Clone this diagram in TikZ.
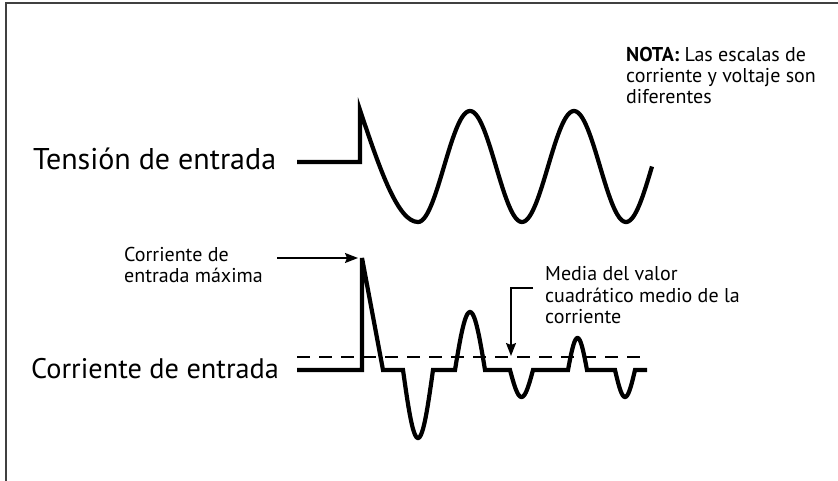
\documentclass[tikz,border=0pt]{standalone}
\usepackage{fontspec}
\setmainfont{PT Sans}
\usetikzlibrary{arrows.meta}
\definecolor{framegray}{HTML}{404040}
\begin{document}
\begin{tikzpicture}[x=1pt,y=-1pt,
  wave/.style={line width=4.2pt},
  dashline/.style={line width=1.6pt, dash pattern=on 13pt off 9pt},
  callout/.style={line width=1.6pt, -{Stealth[length=13pt,width=10pt,inset=2pt]}},
  small/.style={font=\fontsize{20}{20.8}\selectfont, align=left, inner sep=0pt},
  big/.style={font=\fontsize{30}{34}\selectfont, inner sep=0pt}]
\useasboundingbox (0,0) rectangle (838,481);
% frame
\draw[framegray, line width=2pt] (5.5,481) -- (5.5,3.5) -- (838,3.5);

% labels
\node[big, anchor=base west] (vin) at (33,170) {Tensión de entrada};
\node[big, anchor=base west, font=\fontsize{28.3}{34}\selectfont] (iin) at (31,378) {Corriente de entrada};
\node[small, anchor=north west] (nota) at (626,47) {\textbf{NOTA:} Las escalas de\\corriente y voltaje son\\diferentes};
\node[small, anchor=north west] (peaklbl) at (124,247) {Corriente de\\entrada máxima};
\node[small, anchor=north west, font=\fontsize{20}{21.5}\selectfont] (rmslbl) at (545,266.5) {Media del valor\\cuadrático medio de la\\corriente};

% voltage waveform
\draw[wave] (297,162) -- (360,162) -- (360,110)
  .. controls (380,170) and (398,222) .. (418,222)
  -- plot[domain=0:234, samples=150] ({418+\x},{166.5+55.5*cos(3.46154*\x)});

% current waveform
\coordinate (ipk) at (362,258);
\draw[wave] (297,370) -- (362,370) -- (ipk) -- (383,370) -- (403,370)
  -- plot[domain=0:30, samples=40] ({403+\x},{370+68*sin(6*\x)})
  -- (455,370)
  -- plot[domain=0:30, samples=40] ({455+\x},{370-58*sin(6*\x)})
  -- (510,370)
  -- plot[domain=0:23, samples=30] ({510+\x},{370+27*sin(7.826*\x)})
  -- (568,370)
  -- plot[domain=0:19, samples=30] ({568+\x},{370-32*sin(9.4737*\x)})
  -- (615,370)
  -- plot[domain=0:20, samples=30] ({615+\x},{370+27*sin(9*\x)})
  -- (647,370);

% RMS dashed line
\coordinate (rmsA) at (297,357);
\coordinate (rmsB) at (647,357);
\draw[dashline] (rmsA) -- (rmsB);

% callouts
\coordinate (pkstart) at (277,258);
\coordinate (pktip) at (358,258);
\draw[callout] (pkstart) -- (pktip);
\coordinate (rmsstart) at (533,288);
\coordinate (rmscorner) at (511,288);
\coordinate (rmstip) at (511,356);
\draw[callout] (rmsstart) -- (rmscorner) -- (rmstip);
\end{tikzpicture}
\end{document}
